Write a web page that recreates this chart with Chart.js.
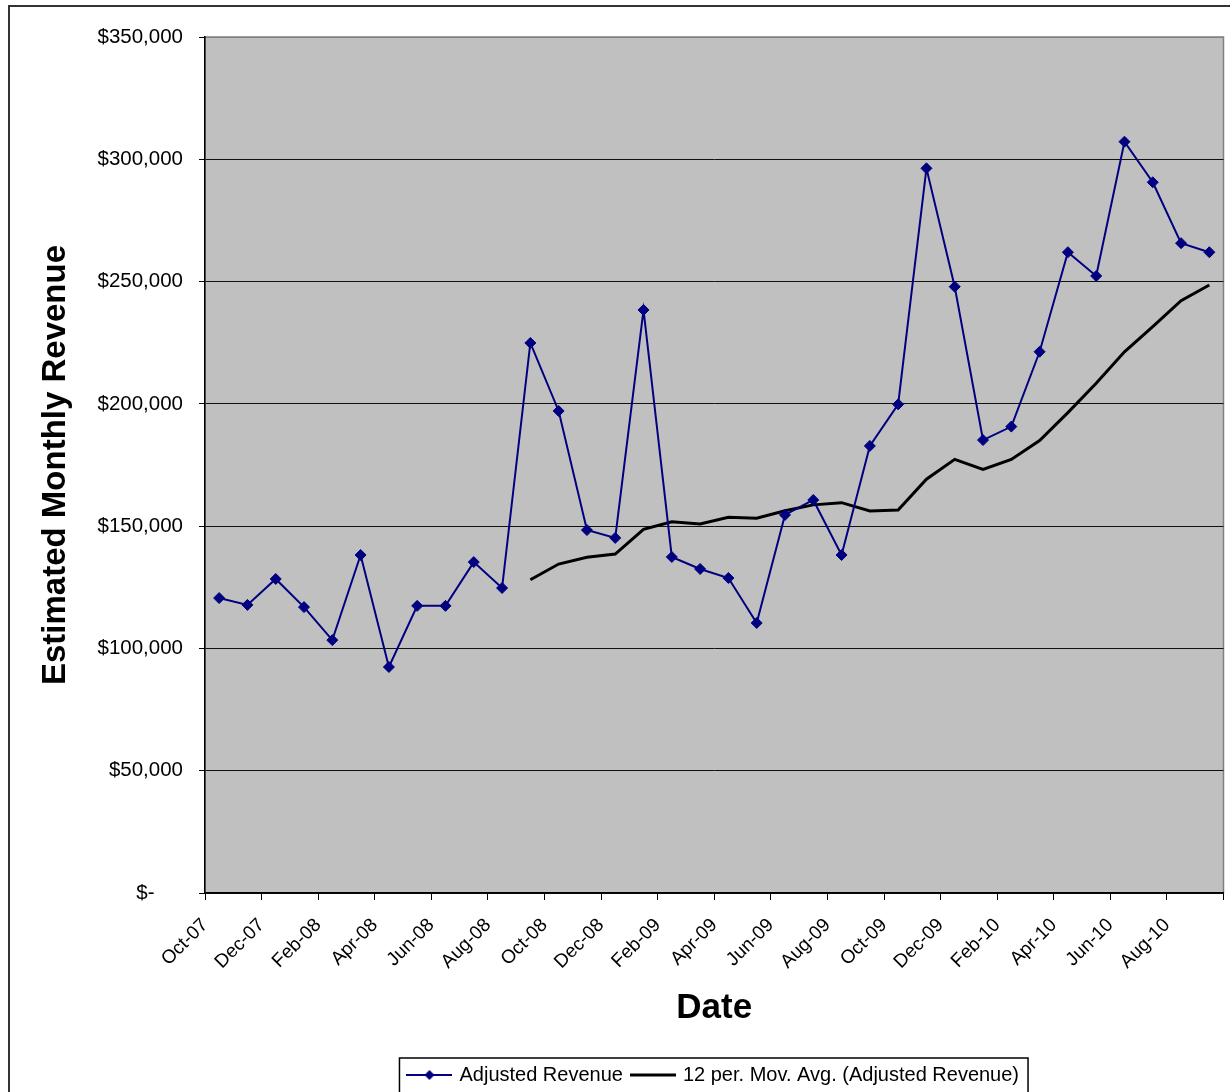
<!DOCTYPE html>
<html>
<head>
<meta charset="utf-8">
<title>Estimated Monthly Revenue</title>
<script src="https://cdn.jsdelivr.net/npm/chart.js@4.4.0/dist/chart.umd.min.js"></script>
<style>
  html, body { margin: 0; padding: 0; background: #fff; overflow: hidden; }
  #frame { position: absolute; left: 8px; top: 5px; width: 1260px; height: 1120px; border: 2px solid #333; }
  #wrap { position: absolute; left: 0; top: 0; width: 1230px; height: 1092px; overflow: hidden; }
</style>
</head>
<body>
<div id="frame"></div>
<div id="wrap"><canvas id="revenue_chart" width="1230" height="1095"></canvas></div>
<script>
// one entry per month, Oct-07 .. Sep-10
const months = [
  'Oct-07', 'Nov-07', 'Dec-07', 'Jan-08', 'Feb-08', 'Mar-08', 'Apr-08', 'May-08', 'Jun-08',
  'Jul-08', 'Aug-08', 'Sep-08', 'Oct-08', 'Nov-08', 'Dec-08', 'Jan-09', 'Feb-09', 'Mar-09',
  'Apr-09', 'May-09', 'Jun-09', 'Jul-09', 'Aug-09', 'Sep-09', 'Oct-09', 'Nov-09', 'Dec-09',
  'Jan-10', 'Feb-10', 'Mar-10', 'Apr-10', 'May-10', 'Jun-10', 'Jul-10', 'Aug-10', 'Sep-10'
];

// axis labels, every second month boundary
const tickLabels = [
  'Oct-07', 'Dec-07', 'Feb-08', 'Apr-08', 'Jun-08', 'Aug-08', 'Oct-08', 'Dec-08', 'Feb-09',
  'Apr-09', 'Jun-09', 'Aug-09', 'Oct-09', 'Dec-09', 'Feb-10', 'Apr-10', 'Jun-10', 'Aug-10'
];

const adjustedRevenue = [
  120600, 117800, 128400, 116900, 103400, 138200, 92400, 117400, 117400,
  135300, 124700, 224900, 197100, 148400, 145200, 238400, 137400, 132500,
  128800, 110400, 154600, 160700, 138200, 182800, 199800, 296300, 247900,
  185200, 190700, 221300, 262000, 252300, 307200, 290600, 265700, 262000
];

// 12 per. moving average, starts at the 12th month
const movingAverage = [
  null, null, null, null, null, null, null, null, null, null, null, 128100,
  134500, 137300, 138600, 148700, 151800, 150900, 153600, 153200, 156300, 158700,
  159600, 156200, 156600, 169200, 177300, 173200, 177300, 185000, 196400, 208400,
  221300, 231600, 242200, 248600
];

const fontFamily = "'Liberation Sans', Arial, sans-serif";

// little line + marker pictures for the legend
function legendSymbol(color, lineWidth, marker) {
  const c = document.createElement('canvas');
  c.width = 46;
  c.height = 16;
  const g = c.getContext('2d');
  g.strokeStyle = color;
  g.lineWidth = lineWidth;
  g.beginPath();
  g.moveTo(0, 8);
  g.lineTo(46, 8);
  g.stroke();
  if (marker) {
    g.fillStyle = color;
    g.beginPath();
    g.moveTo(23, 3);
    g.lineTo(28, 8);
    g.lineTo(23, 13);
    g.lineTo(18, 8);
    g.closePath();
    g.fill();
  }
  return c;
}
const symbols = [legendSymbol('#000080', 2, true), legendSymbol('#000000', 3, false)];

const plotBackground = {
  id: 'plotBackground',
  beforeDraw(chart) {
    const { ctx, chartArea: a } = chart;
    ctx.save();
    ctx.fillStyle = '#c0c0c0';
    ctx.fillRect(a.left, a.top, a.right - a.left, a.bottom - a.top);
    ctx.strokeStyle = '#808080';
    ctx.lineWidth = 1.5;
    ctx.strokeRect(a.left, a.top, a.right - a.left, a.bottom - a.top);
    ctx.restore();
  }
};

const legendBorder = {
  id: 'legendBorder',
  afterDraw(chart) {
    const boxes = chart.legend.legendHitBoxes;
    if (!boxes || !boxes.length) return;
    const first = boxes[0];
    const last = boxes[boxes.length - 1];
    const left = first.left - 10;
    const right = last.left + last.width + 9;
    const top = first.top - 7;
    const { ctx } = chart;
    ctx.save();
    ctx.strokeStyle = '#000';
    ctx.lineWidth = 1.5;
    ctx.strokeRect(left, top, right - left, first.height + 16);
    ctx.restore();
  }
};

new Chart('revenue_chart', {
  type: 'line',
  data: {
    datasets: [{
      label: 'Adjusted Revenue',
      data: adjustedRevenue.map((v, i) => ({ x: i + 0.5, y: v, month: months[i] })),
      borderColor: '#000080',
      backgroundColor: '#000080',
      borderWidth: 2,
      pointStyle: 'rectRot',
      pointRadius: 5.5,
      pointBorderWidth: 1,
      pointBackgroundColor: '#000080',
      pointBorderColor: '#000080',
      tension: 0
    }, {
      label: '12 per. Mov. Avg. (Adjusted Revenue)',
      data: movingAverage.map((v, i) => ({ x: i + 0.5, y: v, month: months[i] })),
      borderColor: '#000000',
      backgroundColor: '#000000',
      borderWidth: 3,
      pointRadius: 0,
      tension: 0
    }]
  },
  options: {
    responsive: false,
    animation: false,
    devicePixelRatio: 1,
    layout: { padding: { left: 10, top: 37, right: 5, bottom: 0 } },
    scales: {
      x: {
        type: 'linear',
        min: 0,
        max: months.length,
        border: { display: true, color: '#000', width: 1.5 },
        grid: { drawOnChartArea: false, drawTicks: true, tickLength: 7, color: '#000' },
        ticks: {
          stepSize: 2,
          maxTicksLimit: 40,
          autoSkip: false,
          minRotation: 45,
          maxRotation: 45,
          padding: 14,
          color: '#000',
          font: { family: fontFamily, size: 19 },
          callback: (value) => tickLabels[value / 2] || ''
        },
        title: {
          display: true,
          text: 'Date',
          color: '#000',
          font: { family: fontFamily, size: 35, weight: 'bold' },
          padding: { top: 0, bottom: 26 }
        },
        afterFit(scale) {
          scale.height = 162;
          scale.paddingLeft = 0;
          scale.paddingRight = 0;
        }
      },
      y: {
        min: 0,
        max: 350000,
        border: { display: true, color: '#000', width: 1.5 },
        grid: {
          color: (c) => (c.tick && c.tick.value === 350000 ? '#808080' : '#111'),
          tickColor: '#000',
          lineWidth: 1,
          tickLength: 6
        },
        ticks: {
          stepSize: 50000,
          padding: 16,
          color: '#000',
          font: { family: fontFamily, size: 20.5 },
          callback: (value) => (value === 0 ? '$-     ' : '$' + value.toLocaleString('en-US'))
        },
        title: {
          display: true,
          text: 'Estimated Monthly Revenue',
          color: '#000',
          font: { family: fontFamily, size: 33, weight: 'bold' },
          padding: { top: 26, bottom: 0 }
        },
        afterFit(scale) {
          scale.width = 195;
          scale.paddingTop = 0;
          scale.paddingBottom = 0;
        }
      }
    },
    plugins: {
      tooltip: { enabled: false },
      legend: {
        position: 'bottom',
        fullSize: false,
        labels: {
          usePointStyle: true,
          pointStyleWidth: 40,
          padding: 10,
          color: '#000',
          font: { family: fontFamily, size: 20 },
          generateLabels(chart) {
            const items = Chart.defaults.plugins.legend.labels.generateLabels(chart);
            items.forEach((item, i) => { item.pointStyle = symbols[i]; });
            return items;
          }
        }
      }
    }
  },
  plugins: [plotBackground, legendBorder]
});
</script>
</body>
</html>
